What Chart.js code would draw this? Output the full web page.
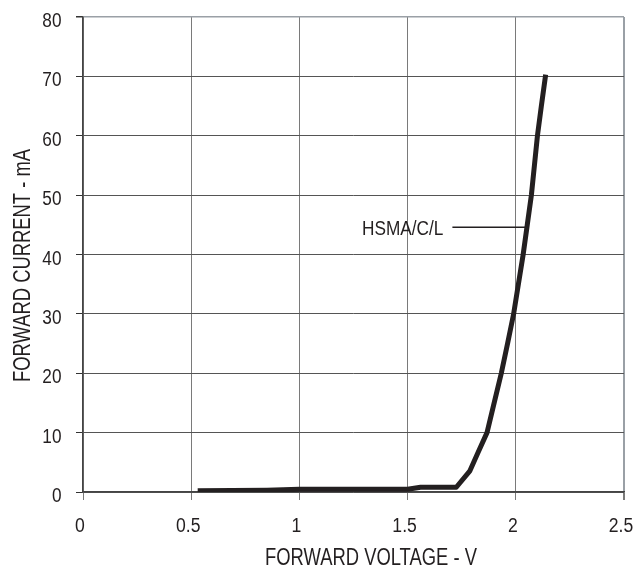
<!DOCTYPE html>
<html>
<head>
<meta charset="utf-8">
<script src="https://cdn.jsdelivr.net/npm/chart.js@4.4.0/dist/chart.umd.min.js"></script>
<style>
  html, body { margin: 0; padding: 0; background: #ffffff; }
  #wrap { width: 634px; height: 567px; position: relative; }
</style>
</head>
<body>
<div id="wrap"><canvas id="c" width="634" height="567"></canvas></div>
<script>
// Forward voltage (V) and forward current (mA)
const forwardVoltage = [0.53, 0.85, 1.0, 1.5, 1.56, 1.725, 1.787, 1.825, 1.867, 1.90, 1.933, 1.962, 1.99, 2.012, 2.034, 2.053, 2.072, 2.086, 2.10, 2.118, 2.138];
const forwardCurrent = [0.2, 0.3, 0.45, 0.45, 0.8, 0.8, 3.5, 6.6, 10, 15, 20, 25, 30, 35, 40, 45, 50, 55, 60, 65, 70.3];
const seriesLabel = 'HSMA/C/L';
const leaderVoltage = [1.707, 2.045];
const leaderCurrent = [44.6, 44.6];
const xTickValues = [0, 0.5, 1, 1.5, 2, 2.5];
const yTickValues = [0, 10, 20, 30, 40, 50, 60, 70, 80];
const xTitle = 'FORWARD VOLTAGE - V';
const yTitle = 'FORWARD CURRENT - mA';

const FONT = "'Liberation Sans', Arial, sans-serif";
const TXT = '#231f20';

const curveData = forwardVoltage.map((v, i) => ({ x: v, y: forwardCurrent[i] }));
const leaderData = leaderVoltage.map((v, i) => ({ x: v, y: leaderCurrent[i] }));

function narrowText(ctx, text, x, y, align, size, squeeze) {
  ctx.save();
  ctx.font = size + 'px ' + FONT;
  ctx.textBaseline = 'alphabetic';
  ctx.textAlign = align;
  ctx.translate(x, y);
  ctx.scale(squeeze, 1);
  ctx.fillText(text, 0, 0);
  ctx.restore();
}

const textPlugin = {
  id: 'narrowText',
  afterDraw(chart) {
    const ctx = chart.ctx;
    const xs = chart.scales.x, ys = chart.scales.y;
    const area = chart.chartArea;
    ctx.save();
    ctx.fillStyle = TXT;
    // y tick labels
    ys.ticks.forEach(t => {
      const py = ys.getPixelForValue(t.value);
      narrowText(ctx, String(t.value), area.left - 21.5, py + 10, 'right', 20, 0.86);
    });
    // x tick labels
    xs.ticks.forEach(t => {
      const px = xs.getPixelForValue(t.value);
      narrowText(ctx, String(t.value), px - 3, area.bottom + 39.5, 'center', 20, 0.88);
    });
    // x axis title
    narrowText(ctx, xTitle, 265, 565, 'left', 23, 0.8);
    // series label at the left end of its leader line
    narrowText(ctx, seriesLabel, xs.getPixelForValue(leaderVoltage[0]) - 9, ys.getPixelForValue(leaderCurrent[0]) + 7.5, 'right', 21, 0.82);
    // y axis title (rotated)
    ctx.save();
    ctx.translate(30, 382);
    ctx.rotate(-Math.PI / 2);
    narrowText(ctx, yTitle, 0, 0, 'left', 23, 0.8);
    ctx.restore();
    ctx.restore();
  }
};

new Chart(document.getElementById('c'), {
  type: 'scatter',
  data: {
    datasets: [
      {
        data: curveData,
        showLine: true,
        borderColor: '#231f20',
        borderWidth: 5,
        pointRadius: 0,
        tension: 0,
        borderJoinStyle: 'round',
        borderCapStyle: 'butt'
      },
      {
        data: leaderData,
        showLine: true,
        borderColor: '#231f20',
        borderWidth: 1.5,
        pointRadius: 0
      }
    ]
  },
  options: {
    responsive: false,
    animation: false,
    layout: { padding: { top: 17, right: 10, left: 0, bottom: 0 } },
    plugins: { legend: { display: false }, tooltip: { enabled: false } },
    scales: {
      x: {
        type: 'linear',
        min: 0, max: 2.5,
        afterBuildTicks(s) { s.ticks = xTickValues.map(v => ({ value: v })); },
        afterFit(s) { s.height = 75; s.paddingLeft = 0; s.paddingRight = 0; },
        ticks: { display: false },
        grid: {
          color: ctx => (ctx.tick && ctx.tick.value === 2.5) ? '#9aa0a6' : '#7a7a7a',
          lineWidth: ctx => (ctx.tick && ctx.tick.value === 2.5) ? 2 : 1,
          tickLength: 8,
          tickColor: '#7a7a7a'
        },
        border: { color: '#444444', width: 1.5 }
      },
      y: {
        type: 'linear',
        min: 0, max: 80,
        afterBuildTicks(s) { s.ticks = yTickValues.map(v => ({ value: v })); },
        afterFit(s) { s.width = 83; s.paddingTop = 0; s.paddingBottom = 0; },
        ticks: { display: false },
        grid: {
          color: ctx => (ctx.tick && ctx.tick.value === 80) ? '#9aa0a6' : '#555555',
          lineWidth: ctx => (ctx.tick && ctx.tick.value === 80) ? 1.5 : 1,
          tickLength: 7,
          tickColor: '#333333'
        },
        border: { color: '#444444', width: 1.5 }
      }
    }
  },
  plugins: [textPlugin]
});
</script>
</body>
</html>
